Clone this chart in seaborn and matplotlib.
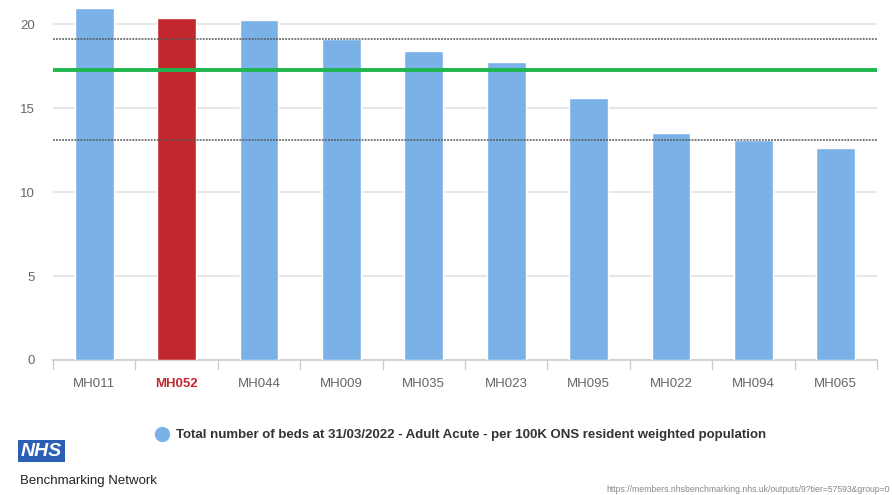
import matplotlib
matplotlib.use("Agg")
import matplotlib.pyplot as plt
import seaborn as sns
import pandas as pd
from matplotlib.lines import Line2D

categories = ["MH011", "MH052", "MH044", "MH009", "MH035", "MH023", "MH095", "MH022", "MH094", "MH065"]
values = [21.0, 20.35, 20.25, 19.1, 18.4, 17.75, 15.6, 13.55, 13.1, 12.65]
highlight = "MH052"
mean_value = 17.3
upper_quartile = 19.1
lower_quartile = 13.1
yticks = [0, 5, 10, 15, 20]
legend_label = "Total number of beds at 31/03/2022 - Adult Acute - per 100K ONS resident weighted population"
url_text = "https://members.nhsbenchmarking.nhs.uk/outputs/9?tier=57593&group=0"

BLUE = "#7ab2e8"
RED = "#c1272d"
GREEN = "#1fb54f"

sns.set_theme(style="white")
FONT = ["Liberation Sans Narrow", "Liberation Sans", "DejaVu Sans"]
plt.rcParams["font.family"] = FONT

df = pd.DataFrame({"cat": categories, "val": values})
palette = {c: (RED if c == highlight else BLUE) for c in categories}

fig = plt.figure(figsize=(8.92, 4.95), dpi=100)
ax = fig.add_axes([53 / 892, 1 - 360 / 495, (877 - 53) / 892, 360 / 495])

sns.barplot(data=df, x="cat", y="val", hue="cat", palette=palette, legend=False,
            width=0.47, saturation=1, ax=ax, zorder=3)

ax.set_ylim(0, 21.45)
ax.set_xlim(-0.5, len(categories) - 0.5)
ax.set_yticks(yticks)
ax.set_yticklabels([str(t) for t in yticks], color="#666666", fontsize=9.5)
for t in yticks:
    ax.axhline(t, color="#e3e3e3", lw=1.2, zorder=1)

ax.axhline(upper_quartile, color="#555555", lw=1.1, ls=(0, (1.2, 0.8)), zorder=4)
ax.axhline(lower_quartile, color="#555555", lw=1.1, ls=(0, (1.2, 0.8)), zorder=4)
ax.axhline(mean_value, color=GREEN, lw=2.8, zorder=5)

for s in ["top", "right", "left"]:
    ax.spines[s].set_visible(False)
ax.spines["bottom"].set_color("#cccccc")
ax.spines["bottom"].set_linewidth(1.2)

ax.set_xlabel("")
ax.set_ylabel("")
ax.tick_params(axis="y", length=0, pad=13)
ax.set_xticks(range(len(categories)))
ax.set_xticklabels(categories, fontsize=9.5)
ax.tick_params(axis="x", length=0, pad=13)
for lbl in ax.get_xticklabels():
    if lbl.get_text() == highlight:
        lbl.set_color(RED)
        lbl.set_fontweight("bold")
    else:
        lbl.set_color("#666666")
# boundary tick marks
for b in [i - 0.5 for i in range(len(categories) + 1)]:
    ax.plot([b, b], [0, -0.55], color="#cccccc", lw=1, clip_on=False, zorder=2)

handle = Line2D([], [], marker="o", linestyle="", markersize=10,
                markerfacecolor=BLUE, markeredgecolor=BLUE)
fig.legend([handle], [legend_label], loc="center", bbox_to_anchor=(460 / 892, 1 - 435 / 495),
           frameon=False, handletextpad=0.5, handlelength=1.2,
           prop={"family": FONT, "weight": "bold", "size": 9.5},
           labelcolor="#333333")

fig.text(21 / 892, 1 - 451 / 495, "NHS", fontsize=14, fontweight="bold", fontstyle="italic",
         color="white", va="center", ha="left", family=FONT,
         bbox=dict(boxstyle="square,pad=0.15", fc="#2b5fb4", ec="none"))
fig.text(20 / 892, 1 - 481 / 495, "Benchmarking Network", fontsize=9.5, color="#222222",
         va="center", ha="left", family=FONT)
fig.text(890 / 892, 1 - 489 / 495, url_text, fontsize=6.2, color="#888888",
         va="center", ha="right", family=FONT)

fig.savefig("out.png", dpi=100)
